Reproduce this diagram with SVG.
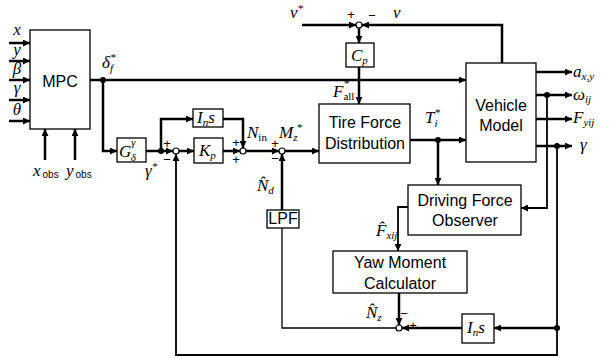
<svg xmlns="http://www.w3.org/2000/svg" width="611" height="358" viewBox="0 0 611 358">
<defs>
<marker id="ah" viewBox="0 0 10 10" refX="10" refY="5" markerWidth="8" markerHeight="7" markerUnits="userSpaceOnUse" orient="auto"><path d="M0,0 L10,5 L0,10 z" fill="#000"/></marker>
</defs>
<style>
.blk{fill:#fff;stroke:#000;stroke-width:1.3}
.w{fill:none;stroke:#000;stroke-width:2.5}
.m{fill:none;stroke:#000;stroke-width:1.8}
.t{fill:none;stroke:#000;stroke-width:1.3}
.lbl{font-family:"Liberation Sans",Arial,sans-serif;font-size:16px;text-anchor:middle}
.math{font-family:"Liberation Serif","DejaVu Serif",serif;font-style:italic;font-size:17px}
.s{font-size:11px}
.rm{font-style:normal;font-size:11px}
.sg{font-family:"Liberation Sans",Arial,sans-serif;font-size:13px;text-anchor:middle}
.sum{fill:#fff;stroke:#000;stroke-width:1.2}
.dot{fill:#000}
</style>
<rect width="611" height="358" fill="#fff"/>
<g id="connectors">
  <line class="w" x1="9" y1="43" x2="30" y2="43" marker-end="url(#ah)"/>
  <line class="w" x1="9" y1="61" x2="30" y2="61" marker-end="url(#ah)"/>
  <line class="w" x1="9" y1="80" x2="30" y2="80" marker-end="url(#ah)"/>
  <line class="w" x1="9" y1="100" x2="30" y2="100" marker-end="url(#ah)"/>
  <line class="w" x1="9" y1="121" x2="30" y2="121" marker-end="url(#ah)"/>
  <line class="w" x1="45" y1="160" x2="45" y2="129" marker-end="url(#ah)"/>
  <line class="w" x1="75" y1="160" x2="75" y2="129" marker-end="url(#ah)"/>
  <line class="w" x1="90" y1="80" x2="466" y2="80" marker-end="url(#ah)"/>
  <polyline class="w" points="103,80 103,151 117,151" marker-end="url(#ah)"/>
  <line class="w" x1="146" y1="151" x2="173" y2="151" marker-end="url(#ah)"/>
  <polyline class="w" points="161,151 161,119 193,119" marker-end="url(#ah)"/>
  <line class="w" x1="179" y1="151" x2="194" y2="151" marker-end="url(#ah)"/>
  <line class="w" x1="223" y1="151" x2="240" y2="151" marker-end="url(#ah)"/>
  <polyline class="w" points="223,119 243,119 243,148" marker-end="url(#ah)"/>
  <line class="w" x1="246" y1="151" x2="279" y2="151" marker-end="url(#ah)"/>
  <line class="w" x1="285" y1="151" x2="319" y2="151" marker-end="url(#ah)"/>
  <line class="w" x1="282" y1="210" x2="282" y2="154" marker-end="url(#ah)"/>
  <polyline class="t" points="396,328 282,328 282,228"/>
  <polyline class="m" points="557,146 557,355 176,355 176,154" marker-end="url(#ah)"/>
  <line class="w" x1="302" y1="25" x2="356" y2="25" marker-end="url(#ah)"/>
  <polyline class="w" points="502,63 502,25 362,25" marker-end="url(#ah)"/>
  <line class="w" x1="359" y1="28" x2="359" y2="43" marker-end="url(#ah)"/>
  <line class="w" x1="359" y1="67" x2="359" y2="104" marker-end="url(#ah)"/>
  <line class="w" x1="410" y1="140" x2="466" y2="140" marker-end="url(#ah)"/>
  <line class="w" x1="438" y1="140" x2="438" y2="185" marker-end="url(#ah)"/>
  <line class="w" x1="536" y1="72" x2="572" y2="72" marker-end="url(#ah)"/>
  <line class="w" x1="536" y1="95" x2="572" y2="95" marker-end="url(#ah)"/>
  <line class="w" x1="536" y1="119" x2="572" y2="119" marker-end="url(#ah)"/>
  <line class="w" x1="536" y1="146" x2="572" y2="146" marker-end="url(#ah)"/>
  <polyline class="m" points="547,95 547,208 521,208" marker-end="url(#ah)"/>
  <polyline class="m" points="408,207 398,207 398,251" marker-end="url(#ah)"/>
  <line class="w" x1="399" y1="293" x2="399" y2="325" marker-end="url(#ah)"/>
  <line class="w" x1="557" y1="328" x2="494" y2="328" marker-end="url(#ah)"/>
  <line class="w" x1="462" y1="328" x2="402" y2="328" marker-end="url(#ah)"/>
  <circle class="dot" cx="103" cy="80" r="3"/>
  <circle class="dot" cx="161" cy="151" r="3"/>
  <circle class="dot" cx="438" cy="140" r="3"/>
  <circle class="dot" cx="547" cy="95" r="3"/>
  <circle class="dot" cx="557" cy="146" r="3"/>
  <circle class="dot" cx="557" cy="328" r="3"/>
</g>
<g id="mpc">
  <rect class="blk" x="30" y="30" width="60" height="99"/>
  <text class="lbl" x="60" y="87" font-size="17">MPC</text>
</g>
<g id="mpc-inputs">
  <text class="math" x="17" y="35" font-size="13" text-anchor="middle">x</text>
  <text class="math" x="17" y="55" font-size="13" text-anchor="middle">y</text>
  <text class="math" x="17" y="74" font-size="13" text-anchor="middle">β</text>
  <text class="math" x="17" y="93" font-size="13" text-anchor="middle">γ</text>
  <text class="math" x="17" y="115" font-size="13" text-anchor="middle">θ</text>
  <text class="math" x="33" y="176" font-size="14">x<tspan font-family="Liberation Sans,sans-serif" font-style="normal" font-size="10" dy="2" dx="2">obs</tspan></text>
  <text class="math" x="66" y="176" font-size="14">y<tspan font-family="Liberation Sans,sans-serif" font-style="normal" font-size="10" dy="2" dx="2">obs</tspan></text>
</g>
<g id="label-delta">
  <text class="math" x="102" y="68">δ<tspan class="s" dy="4">f</tspan><tspan class="s" dx="-3" dy="-11">*</tspan></text>
</g>
<g id="g-delta">
  <rect class="blk" x="117" y="138" width="29" height="24"/>
  <text class="math" x="119" y="157">G<tspan class="s" dy="-11">γ</tspan><tspan class="s" dx="-5" dy="15">δ</tspan></text>
</g>
<g id="label-gamma-ref">
  <text class="math" x="145" y="176">γ<tspan class="s" dy="-6">*</tspan></text>
</g>
<g id="sum1">
  <circle class="sum" cx="176" cy="151" r="3"/>
  <text class="sg" x="167" y="148">+</text>
  <text class="sg" x="167" y="164">−</text>
</g>
<g id="ins1">
  <rect class="blk" x="193" y="109" width="30" height="18"/>
  <text class="math" x="197" y="123">I<tspan class="s" dy="3">n</tspan><tspan dy="-3">s</tspan></text>
</g>
<g id="kp">
  <rect class="blk" x="194" y="138" width="29" height="25"/>
  <text class="math" x="199" y="156">K<tspan class="s" dy="3">p</tspan></text>
</g>
<g id="sum2">
  <circle class="sum" cx="243" cy="151" r="3"/>
  <text class="sg" x="236" y="147">+</text>
  <text class="sg" x="236" y="164">+</text>
  <text class="math" x="247" y="138">N<tspan class="rm" dy="3">in</tspan></text>
</g>
<g id="sum3">
  <circle class="sum" cx="282" cy="151" r="3"/>
  <text class="sg" x="275" y="148">+</text>
  <text class="sg" x="275" y="163">−</text>
  <text class="math" x="279" y="138">M<tspan class="s" dy="3">z</tspan><tspan class="s" dx="-1" dy="-10">*</tspan></text>
</g>
<g id="label-nd">
  <text class="math" x="257" y="191">N̂<tspan class="s" dy="3">d</tspan></text>
</g>
<g id="lpf">
  <rect class="blk" x="267" y="210" width="32" height="18"/>
  <text class="lbl" x="283" y="224" font-size="13">LPF</text>
</g>
<g id="sum-v">
  <circle class="sum" cx="359" cy="25" r="3"/>
  <text class="sg" x="351" y="19">+</text>
  <text class="sg" x="372" y="20">−</text>
  <text class="math" x="290" y="18">v<tspan class="s" dy="-6">*</tspan></text>
  <text class="math" x="393" y="18">v</text>
</g>
<g id="cp">
  <rect class="blk" x="346" y="43" width="28" height="24"/>
  <text class="math" x="351" y="61">C<tspan class="s" dy="3">p</tspan></text>
</g>
<g id="label-fall">
  <text class="math" x="333" y="97">F<tspan class="rm" dy="3">all</tspan><tspan class="s" dx="-11" dy="-13">*</tspan></text>
</g>
<g id="tfd">
  <rect class="blk" x="319" y="104" width="91" height="59"/>
  <text class="lbl" x="365" y="128">Tire Force</text>
  <text class="lbl" x="365" y="149">Distribution</text>
</g>
<g id="label-ti">
  <text class="math" x="425" y="123">T<tspan class="s" dy="4">i</tspan><tspan class="s" dx="-3" dy="-11">*</tspan></text>
</g>
<g id="vehicle">
  <rect class="blk" x="466" y="63" width="70" height="99"/>
  <text class="lbl" x="501" y="111">Vehicle</text>
  <text class="lbl" x="501" y="131">Model</text>
</g>
<g id="outputs">
  <text class="math" x="573" y="77">a<tspan class="s" dy="3">x,y</tspan></text>
  <text class="math" x="573" y="100">ω<tspan class="s" dy="3">ij</tspan></text>
  <text class="math" x="573" y="123">F<tspan class="s" dy="3">yij</tspan></text>
  <text class="math" x="580" y="150">γ</text>
</g>
<g id="dfo">
  <rect class="blk" x="408" y="185" width="113" height="50"/>
  <text class="lbl" x="465" y="206">Driving Force</text>
  <text class="lbl" x="465" y="226">Observer</text>
</g>
<g id="label-fx">
  <text class="math" x="376" y="236">F̂<tspan class="s" dy="3">xij</tspan></text>
</g>
<g id="ymc">
  <rect class="blk" x="333" y="251" width="134" height="42"/>
  <text class="lbl" x="400" y="268">Yaw Moment</text>
  <text class="lbl" x="400" y="289">Calculator</text>
</g>
<g id="sum4">
  <circle class="sum" cx="399" cy="328" r="3"/>
  <text class="sg" x="404" y="318">−</text>
  <text class="sg" x="413" y="330">+</text>
  <text class="math" x="366" y="318">N̂<tspan class="s" dy="3">z</tspan></text>
</g>
<g id="ins2">
  <rect class="blk" x="462" y="314" width="32" height="29"/>
  <text class="math" x="467" y="333">I<tspan class="s" dy="3">n</tspan><tspan dy="-3">s</tspan></text>
</g>
</svg>
